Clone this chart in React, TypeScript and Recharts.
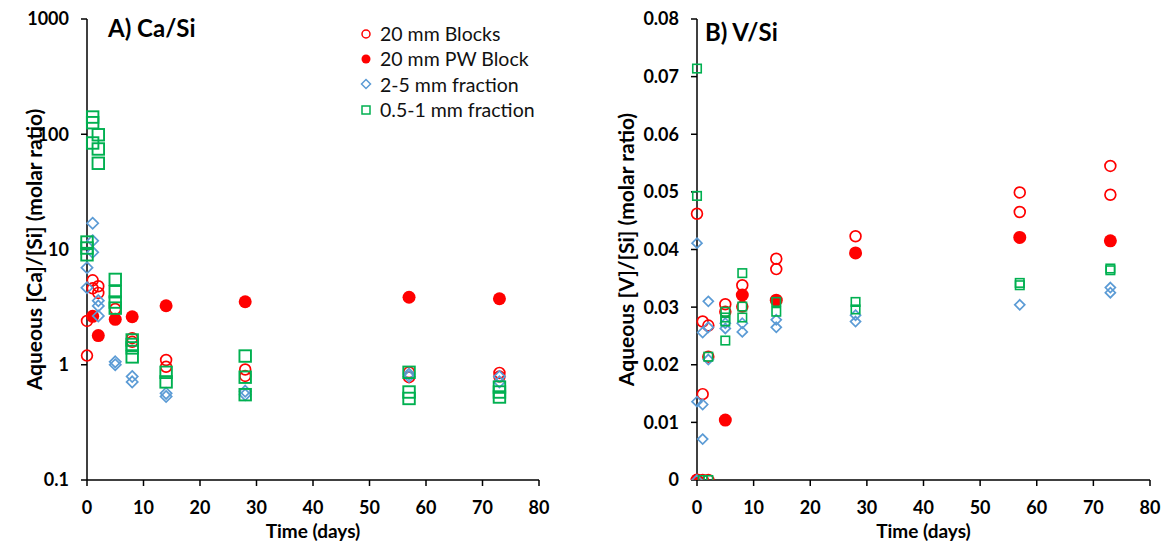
import React from 'react';
import { ScatterChart, Scatter, XAxis, YAxis, Label, Legend } from 'recharts';

const RED = '#FF0000';
const BLUE = '#5B9BD5';
const GREEN = '#00B050';
const FONT = 'Lato, "Open Sans", sans-serif';

const dayTicks = [0, 10, 20, 30, 40, 50, 60, 70, 80];
const caTicks = [0.1, 1, 10, 100, 1000];
const vTicks = [0, 0.01, 0.02, 0.03, 0.04, 0.05, 0.06, 0.07, 0.08];

const seriesNames = ['20 mm Blocks', '20 mm PW Block', '2-5 mm fraction', '0.5-1 mm fraction'];

// A) Ca/Si
const caBlocksDays = [0, 0, 1, 1, 2, 2, 5, 8, 8, 14, 14, 28, 28, 57, 57, 73, 73];
const caBlocksVals = [2.4, 1.2, 5.4, 4.6, 4.8, 4.2, 3.05, 1.7, 1.58, 1.1, 0.96, 0.91, 0.8, 0.86, 0.78, 0.85, 0.79];
const caPwDays = [1, 2, 5, 8, 14, 28, 57, 73];
const caPwVals = [2.63, 1.79, 2.48, 2.61, 3.25, 3.52, 3.85, 3.74];
const caFineDays = [0, 0, 1, 1, 1, 2, 2, 2, 5, 5, 8, 8, 14, 14, 28, 28, 57, 57, 73, 73];
const caFineVals = [6.95, 4.66, 16.9, 11.9, 9.46, 3.6, 3.24, 2.65, 1.06, 1.0, 0.79, 0.71, 0.565, 0.53, 0.59, 0.55, 0.83, 0.79, 0.79, 0.71];
const caPowderDays = [0, 0, 0, 1, 1, 1, 2, 2, 2, 5, 5, 5, 5, 8, 8, 8, 8, 14, 14, 28, 28, 28, 57, 57, 57, 73, 73, 73];
const caPowderVals = [11.6, 10.3, 9.0, 141, 126, 84, 99, 74.5, 56, 5.5, 4.3, 3.5, 3.1, 1.64, 1.5, 1.4, 1.17, 0.86, 0.71, 1.19, 0.78, 0.55, 0.86, 0.58, 0.51, 0.64, 0.58, 0.525];

// B) V/Si
const vBlocksDays = [0, 0, 1, 1, 1, 2, 2, 2, 5, 5, 8, 8, 14, 14, 28, 57, 57, 73, 73];
const vBlocksVals = [0.0462, 0, 0.0275, 0.0149, 0, 0.0268, 0.0214, 0, 0.0305, 0.0292, 0.0338, 0.0301, 0.0384, 0.0366, 0.0423, 0.0499, 0.0465, 0.0545, 0.0495];
const vPwDays = [0, 5, 8, 14, 28, 57, 73];
const vPwVals = [0, 0.0104, 0.0321, 0.0312, 0.0394, 0.0421, 0.0415];
const vFineDays = [0, 0, 0, 1, 1, 1, 2, 2, 2, 5, 5, 8, 8, 14, 14, 28, 28, 57, 73, 73];
const vFineVals = [0.0411, 0.0136, 0, 0.0256, 0.0131, 0.0071, 0.031, 0.0265, 0.0209, 0.0272, 0.0263, 0.0272, 0.0257, 0.0278, 0.0265, 0.0286, 0.0275, 0.0304, 0.0334, 0.0325];
const vPowderDays = [0, 0, 1, 2, 2, 5, 5, 5, 5, 8, 8, 8, 14, 14, 28, 28, 57, 57, 73, 73];
const vPowderVals = [0.0714, 0.0493, 0, 0.0214, 0, 0.0292, 0.0282, 0.0275, 0.0242, 0.0359, 0.0301, 0.0282, 0.0309, 0.0292, 0.0309, 0.0296, 0.0342, 0.0338, 0.0367, 0.0364];

const zip = (xs: number[], ys: number[]) => xs.map((x, i) => ({ x, y: ys[i] }));

const openCircle = (r: number) => (p: any) => (
  <circle cx={p.cx} cy={p.cy} r={r} fill="none" stroke={RED} strokeWidth={1.7} />
);
const dot = (r: number) => (p: any) => <circle cx={p.cx} cy={p.cy} r={r} fill={RED} />;
const diamond = (h: number) => (p: any) => (
  <path
    d={`M${p.cx},${p.cy - h}L${p.cx + h},${p.cy}L${p.cx},${p.cy + h}L${p.cx - h},${p.cy}Z`}
    fill="none"
    stroke={BLUE}
    strokeWidth={1.7}
  />
);
const square = (s: number, w: number) => (p: any) => (
  <rect x={p.cx - s / 2} y={p.cy - s / 2} width={s} height={s} fill="none" stroke={GREEN} strokeWidth={w} />
);

const tickStyle = { fill: '#000', fontSize: 18, fontWeight: 700, fontFamily: FONT };
const axisStyle = { stroke: '#000', strokeWidth: 1.5 };
const titleStyle = { fill: '#000', fontSize: 19, fontWeight: 700, fontFamily: FONT, textAnchor: 'middle' as const };
const yTitleStyle = { ...titleStyle, fontSize: 21 };

const LegendBox = () => (
  <div style={{ fontFamily: FONT, fontSize: 19.5, color: '#111' }}>
    {seriesNames.map((name, i) => (
      <div key={name} style={{ height: 25.3, display: 'flex', alignItems: 'center' }}>
        <svg width={12} height={12} style={{ marginRight: 8 }}>
          {i === 0 && <circle cx={6} cy={6} r={4} fill="none" stroke={RED} strokeWidth={1.5} />}
          {i === 1 && <circle cx={6} cy={6} r={4.5} fill={RED} />}
          {i === 2 && <path d="M6,1.5L10.5,6L6,10.5L1.5,6Z" fill="none" stroke={BLUE} strokeWidth={1.5} />}
          {i === 3 && <rect x={2} y={2} width={8} height={8} fill="none" stroke={GREEN} strokeWidth={1.5} />}
        </svg>
        <span>{name}</span>
      </div>
    ))}
  </div>
);

export default function App() {
  return (
    <div style={{ position: 'absolute', left: 0, top: 0, width: 1168, height: 552, background: '#fff' }}>
      <div style={{ position: 'absolute', left: 0, top: 0 }}>
        <ScatterChart width={584} height={552} margin={{ top: 19, right: 45, bottom: 0, left: 0 }}>
          <XAxis
            type="number"
            dataKey="x"
            domain={[0, 80]}
            ticks={dayTicks}
            tick={tickStyle}
            tickSize={6}
            tickMargin={15}
            axisLine={axisStyle}
            tickLine={axisStyle}
            height={72}
          >
            <Label value="Time (days)" position="insideBottom" offset={14} style={titleStyle} />
          </XAxis>
          <YAxis
            type="number"
            dataKey="y"
            scale="log"
            domain={[0.1, 1000]}
            ticks={caTicks}
            allowDataOverflow
            tick={tickStyle}
            tickFormatter={(v: number) => String(v)}
            tickSize={6}
            tickMargin={12}
            axisLine={axisStyle}
            tickLine={axisStyle}
            width={87}
          >
            <Label value="Aqueous [Ca]/[Si] (molar ratio)" angle={-90} position="insideLeft" offset={21} dx={14} style={yTitleStyle} />
          </YAxis>
          <Legend
            layout="vertical"
            align="center"
            verticalAlign="middle"
            wrapperStyle={{ left: 360, top: 21, width: 220 }}
            content={() => <LegendBox />}
          />
          <Scatter name={seriesNames[0]} data={zip(caBlocksDays, caBlocksVals)} shape={openCircle(5.4)} isAnimationActive={false} />
          <Scatter name={seriesNames[1]} data={zip(caPwDays, caPwVals)} shape={dot(6.5)} isAnimationActive={false} />
          <Scatter name={seriesNames[2]} data={zip(caFineDays, caFineVals)} shape={diamond(5.6)} isAnimationActive={false} />
          <Scatter name={seriesNames[3]} data={zip(caPowderDays, caPowderVals)} shape={square(11.5, 1.9)} isAnimationActive={false} />
        </ScatterChart>
        <div style={{ position: 'absolute', left: 108, top: 16, fontFamily: FONT, fontWeight: 700, fontSize: 24, lineHeight: 1 }}>
          A) Ca/Si
        </div>
      </div>

      <div style={{ position: 'absolute', left: 584, top: 0 }}>
        <ScatterChart width={584} height={552} margin={{ top: 19, right: 18, bottom: 0, left: 0 }}>
          <XAxis
            type="number"
            dataKey="x"
            domain={[0, 80]}
            ticks={dayTicks}
            tick={tickStyle}
            tickSize={6}
            tickMargin={15}
            axisLine={axisStyle}
            tickLine={axisStyle}
            height={72}
          >
            <Label value="Time (days)" position="insideBottom" offset={14} style={titleStyle} />
          </XAxis>
          <YAxis
            type="number"
            dataKey="y"
            domain={[0, 0.08]}
            ticks={vTicks}
            allowDataOverflow
            tick={tickStyle}
            tickFormatter={(v: number) => String(v)}
            tickSize={6}
            tickMargin={12}
            axisLine={axisStyle}
            tickLine={axisStyle}
            width={113}
          >
            <Label value="Aqueous [V]/[Si] (molar ratio)" angle={-90} position="insideLeft" offset={43} style={yTitleStyle} />
          </YAxis>
          <Scatter name={seriesNames[0]} data={zip(vBlocksDays, vBlocksVals)} shape={openCircle(5.4)} isAnimationActive={false} />
          <Scatter name={seriesNames[1]} data={zip(vPwDays, vPwVals)} shape={dot(6.5)} isAnimationActive={false} />
          <Scatter name={seriesNames[2]} data={zip(vFineDays, vFineVals)} shape={diamond(5)} isAnimationActive={false} />
          <Scatter name={seriesNames[3]} data={zip(vPowderDays, vPowderVals)} shape={square(8.5, 1.6)} isAnimationActive={false} />
        </ScatterChart>
        <div style={{ position: 'absolute', left: 121, top: 20, fontFamily: FONT, fontWeight: 700, fontSize: 24, lineHeight: 1 }}>
          B) V/Si
        </div>
      </div>
    </div>
  );
}
